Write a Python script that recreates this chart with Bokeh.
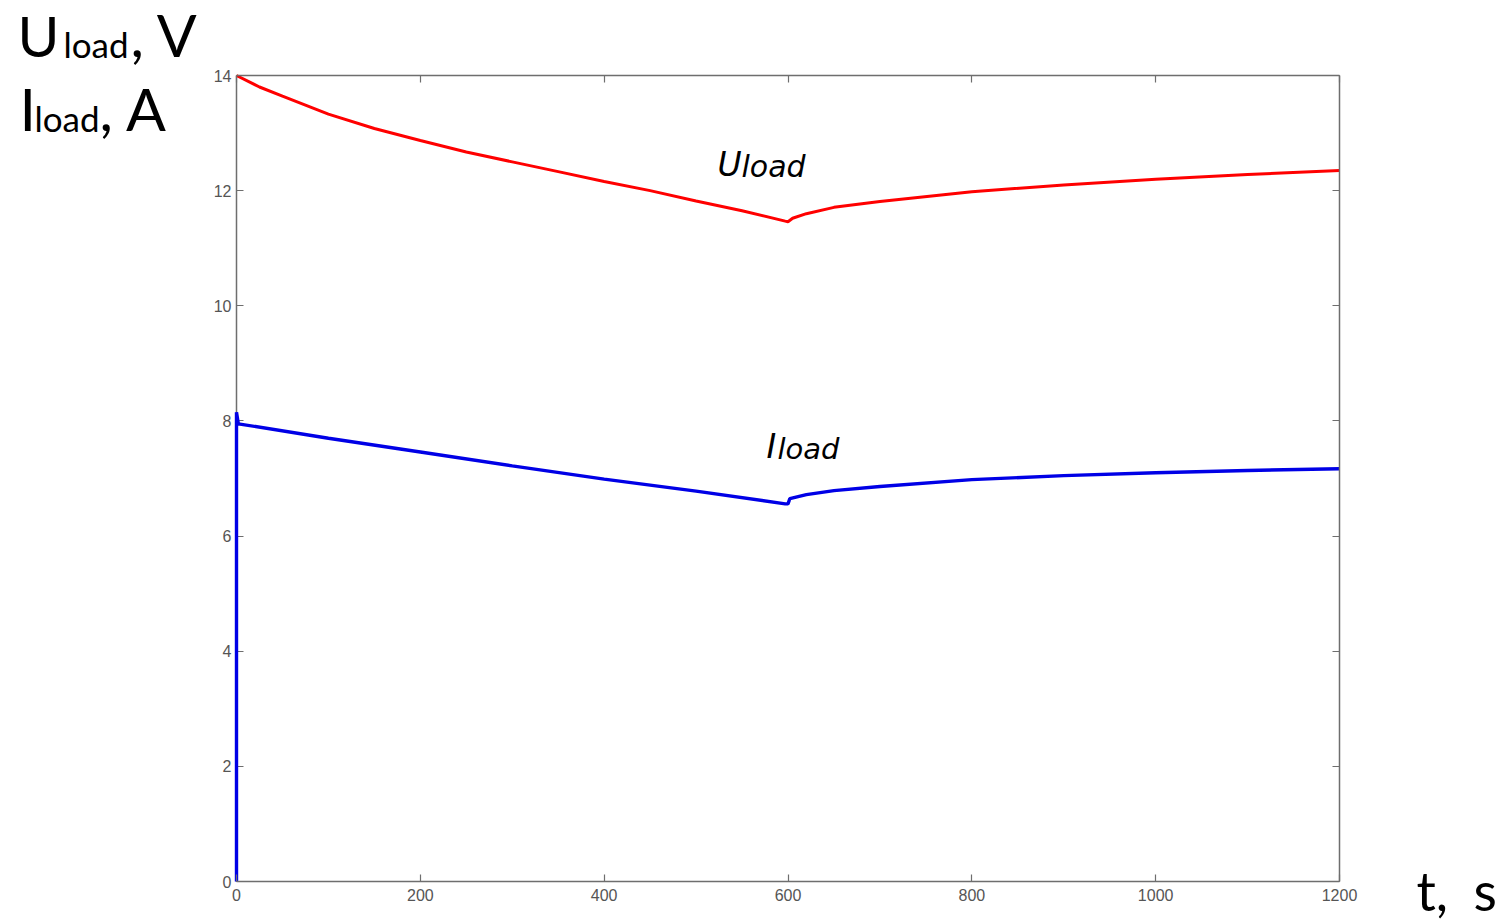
from bokeh.plotting import figure
from bokeh.models import Range1d, LinearAxis, FixedTicker, Label
from bokeh.embed import file_html
from bokeh.resources import INLINE

# ---- data ----
t_u = [0, 25, 50, 100, 150, 200, 250, 300, 350, 400, 450, 500, 550, 597,
       600, 605, 620, 650, 700, 800, 900, 1000, 1100, 1200]
u_load = [14.0, 13.8, 13.64, 13.33, 13.08, 12.87, 12.67, 12.5, 12.33, 12.16, 12.0, 11.82, 11.65, 11.47,
          11.46, 11.52, 11.6, 11.71, 11.81, 11.98, 12.1, 12.2, 12.28, 12.35]

t_i = [0, 0, 2, 100, 200, 300, 400, 500, 597,
       600, 602, 620, 650, 700, 800, 900, 1000, 1100, 1200]
i_load = [0.0, 8.15, 7.95, 7.7, 7.46, 7.22, 6.99, 6.78, 6.56,
          6.56, 6.65, 6.72, 6.79, 6.86, 6.98, 7.05, 7.1, 7.14, 7.17]

x_ticks = [0, 200, 400, 600, 800, 1000, 1200]
y_ticks = [0, 2, 4, 6, 8, 10, 12, 14]
x_min, x_max = 0, 1200
y_min, y_max = 0, 14

AX = "#6e6e6e"
TICKLBL = "#555555"

# The frame covers the whole canvas; the axes box is drawn by four fixed-location axes,
# so the titles in the margins are not clipped away.
W, H = 1511, 924
BOX_L, BOX_R, BOX_T, BOX_B = 236, 1339, 75, 881
sx = (x_max - x_min) / (BOX_R - BOX_L)
sy = (y_max - y_min) / (BOX_B - BOX_T)
xr = Range1d(x_min - BOX_L * sx, x_max + (W - BOX_R) * sx)
yr = Range1d(y_min - (H - BOX_B) * sy, y_max + BOX_T * sy)

p = figure(width=W, height=H, output_backend="svg", toolbar_location=None,
           x_range=xr, y_range=yr, min_border=0,
           x_axis_location=None, y_axis_location=None)
p.grid.visible = False
p.outline_line_color = None
p.background_fill_color = "white"
p.border_fill_color = "white"


def make_axis(ticks, loc, bounds, standoff, labels=True, level="guide"):
    ax = LinearAxis(fixed_location=loc, bounds=bounds, level=level)
    ax.ticker = FixedTicker(ticks=ticks)
    ax.axis_line_color = AX
    ax.axis_line_width = 1.5
    ax.major_tick_line_color = AX
    ax.major_tick_line_width = 1.2
    ax.major_tick_in = 7
    ax.major_tick_out = 0
    ax.minor_tick_line_color = None
    ax.major_label_text_font = "Liberation Sans"
    ax.major_label_text_font_size = "16px"
    ax.major_label_text_color = TICKLBL
    ax.major_label_standoff = standoff
    if not labels:
        ax.major_label_overrides = {v: "" for v in ticks}
    return ax


p.add_layout(make_axis(x_ticks, y_min, (x_min, x_max), 7), "below")
p.add_layout(make_axis(x_ticks, y_max, (x_min, x_max), 4, labels=False), "above")
p.add_layout(make_axis(y_ticks, x_min, (y_min, y_max), 5, level="underlay"), "left")
p.add_layout(make_axis(y_ticks, x_max, (y_min, y_max), 4, labels=False), "right")

p.line(t_u, u_load, line_color="#ff0000", line_width=3)
p.line(t_i, i_load, line_color="#0000e6", line_width=3.4)


def lab(px, py, text, size, style="normal", font="Lato"):
    # px, py: left edge / baseline in picture pixels, mapped through the axes box scale
    py_adj = py - 0.41 * size
    p.add_layout(Label(x=x_min + (px - BOX_L) * sx, y=y_min + (BOX_B - py_adj) * sy,
                       text=text, text_font=font, text_font_size=f"{size}px",
                       text_font_style=style, text_color="black",
                       text_baseline="alphabetic", text_align="left"))


# axis titles (top-left)
lab(17, 58, "U", 57)
lab(63, 58, "load", 35)
lab(130, 58, ", V", 59)
lab(19, 132, "I", 59)
lab(34, 132, "load", 35)
lab(99, 132, ", A", 59)
# x title (bottom-right)
lab(1416, 912, "t,", 54)
lab(1473, 912, "s", 54)
# curve annotations
lab(717, 178, "U", 33, "italic", "DejaVu Sans")
lab(741, 178, "load", 30, "italic", "DejaVu Sans")
lab(766, 460, "I", 33, "italic", "DejaVu Sans")
lab(777, 460, "load", 29, "italic", "DejaVu Sans")

open("out.html", "w").write(file_html(p, INLINE))
